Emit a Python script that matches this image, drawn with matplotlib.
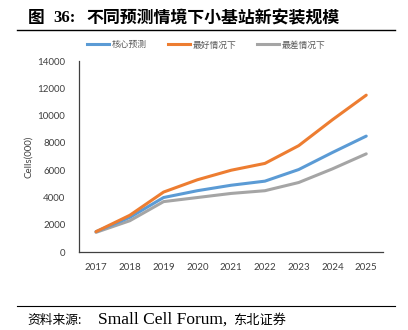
import matplotlib.pyplot as plt
from matplotlib.lines import Line2D

plt.rcParams['font.family'] = ['Noto Sans CJK SC', 'DejaVu Sans']

years = [2017, 2018, 2019, 2020, 2021, 2022, 2023, 2024, 2025]
core = [1500, 2550, 4000, 4500, 4900, 5200, 6050, 7300, 8500]
best = [1500, 2700, 4400, 5300, 6000, 6500, 7800, 9700, 11500]
worst = [1450, 2300, 3700, 4000, 4300, 4500, 5100, 6100, 7200]
series_names = ['核心预测', '最好情况下', '最差情况下']
yticks = [0, 2000, 4000, 6000, 8000, 10000, 12000, 14000]

colors = ['#5B9BD5', '#ED7D31', '#A5A5A5']

fig = plt.figure(figsize=(4.08, 3.30), dpi=100)
ax = fig.add_axes([0.194, 0.236, 0.745, 0.579])

# gray first so orange/blue sit on top
ax.plot(years, worst, color=colors[2], lw=2.2, solid_capstyle='round', zorder=2)
ax.plot(years, core, color=colors[0], lw=2.2, solid_capstyle='round', zorder=3)
ax.plot(years, best, color=colors[1], lw=2.2, solid_capstyle='round', zorder=4)

ax.set_xlim(2016.5, 2025.5)
ax.set_ylim(0, 14000)
ax.set_xticks(years)
ax.set_xticklabels([str(y) for y in years])
ax.set_yticks(yticks)
ax.tick_params(length=0, labelsize=7, colors='#404040', pad=8)
ax.tick_params(axis='y', pad=10)
for lab in ax.get_xticklabels() + ax.get_yticklabels():
    lab.set_family(['Lato'])
for s in ['top', 'right']:
    ax.spines[s].set_visible(False)
for s in ['left', 'bottom']:
    ax.spines[s].set_color('#404040')
    ax.spines[s].set_linewidth(0.9)
ax.set_ylabel('Cells(000)', fontsize=7, color='#404040', labelpad=3,
              family=['Lato'])

handles = [Line2D([], [], color=c, lw=2.2) for c in colors]
fig.legend(handles, series_names, loc='center', bbox_to_anchor=(0.506, 0.864),
           ncol=3, frameon=False, fontsize=6.3, handlelength=2.5,
           handletextpad=0.3, columnspacing=2.4, labelcolor='#595959')

# header / footer
fig.text(0.069, 0.945, '图', fontsize=12, fontweight='bold', va='center', ha='left')
fig.text(0.130, 0.945, '36:', fontsize=12, fontweight='bold', va='center',
         ha='left', family=['Liberation Serif'])
fig.text(0.213, 0.945, '不同预测情境下小基站新安装规模', fontsize=12.2,
         fontweight='bold', va='center', ha='left')
fig.add_artist(Line2D([0.042, 0.968], [0.909, 0.909], color='black', lw=1.0))
fig.add_artist(Line2D([0.042, 0.968], [0.073, 0.073], color='black', lw=0.8))
fig.text(0.066, 0.030, '资料来源:', fontsize=9.2, va='center', ha='left')
fig.text(0.240, 0.030, 'Small Cell Forum,', fontsize=12.5, va='center', ha='left',
         family=['Liberation Serif'])
fig.text(0.571, 0.030, '东北证券', fontsize=9.5, va='center', ha='left')

fig.savefig('out.png', dpi=100)
